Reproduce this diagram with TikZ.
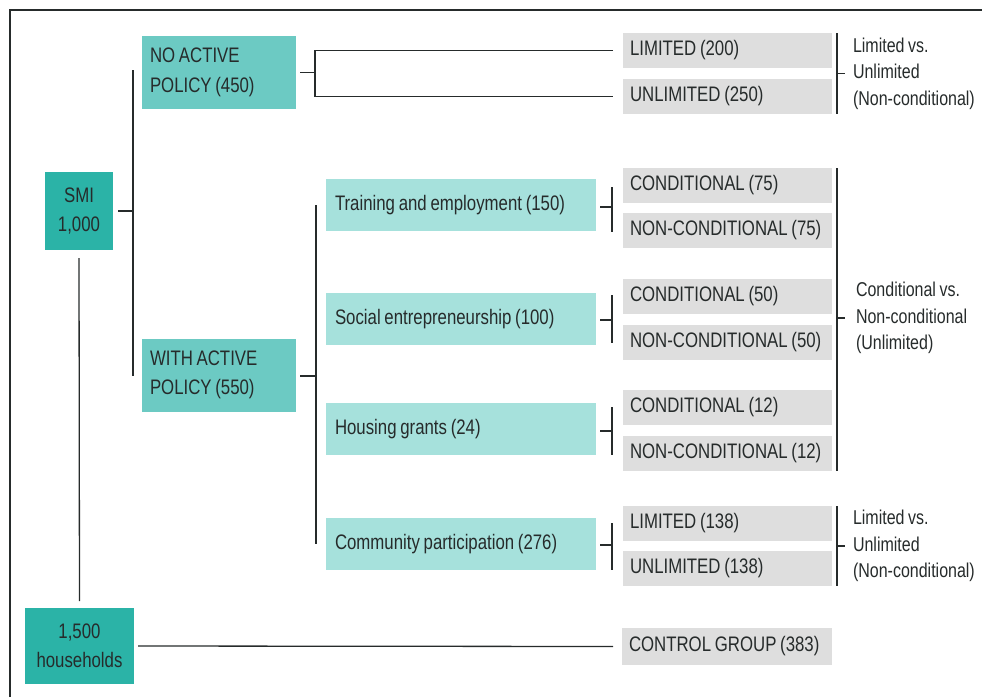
\documentclass[tikz,border=0pt]{standalone}
\usepackage{fontspec}
\setmainfont{Liberation Sans}[FakeStretch=0.8, WordSpace=0.8]
\usepackage{xcolor}
\usepackage{tikz}
\usetikzlibrary{positioning}
\definecolor{tealdark}{HTML}{2BB3A7}
\definecolor{tealmid}{HTML}{6CCAC3}
\definecolor{teallight}{HTML}{A6E1DC}
\definecolor{boxgrey}{HTML}{DEDEDE}
\definecolor{inkgrey}{HTML}{262B2B}

\begin{document}
\begin{tikzpicture}[x=1pt, y=-1pt,
    every node/.style={font=\fontsize{21}{29.5}\selectfont, text=inkgrey, inner sep=0pt, outer sep=0pt},
    darkbox/.style={fill=tealdark, align=center, minimum width=#1},
    midbox/.style={fill=tealmid, align=flush left, inner xsep=8pt, text width=138pt, minimum height=73pt},
    lightbox/.style={fill=teallight, align=flush left, inner xsep=9pt, text width=252pt, minimum height=52pt},
    greybox/.style={fill=boxgrey, align=flush left, inner xsep=7pt, text width=195pt, minimum height=35pt},
    sidenote/.style={anchor=west, align=left, font=\fontsize{20}{26.5}\selectfont},
    link/.style={draw=inkgrey, line width=1.3pt}]
   % canvas and frame (only left and top edges show)
   \useasboundingbox (0,0) rectangle (982,697);
   \draw[inkgrey, line width=2pt] (10,697) -- (10,10) -- (982,10);

   % main groups
   \node[darkbox=68pt, minimum height=78pt] (smi) at (79,211) {SMI\\1,000};
   \node[darkbox=109pt, minimum height=76pt] (hh) at (79.5,646) {1,500\\households};
   \node[midbox] (noact) at (219,72.5) {NO ACTIVE\\POLICY (450)};
   \node[midbox] (withact) at (219,375) {WITH ACTIVE\\POLICY (550)};

   % active policy lines
   \node[lightbox] (train) at (461,205) {Training and employment (150)};
   \node[lightbox] (social) at (461,319) {Social entrepreneurship (100)};
   \node[lightbox] (housing) at (461,429) {Housing grants (24)};
   \node[lightbox] (commun) at (461,544) {Community participation (276)};

   % treatment arms
   \node[greybox] (lim200) at (727.5,50.5) {LIMITED (200)};
   \node[greybox] (unl250) at (727.5,96.5) {UNLIMITED (250)};
   \node[greybox] (cond75) at (727.5,185.5) {CONDITIONAL (75)};
   \node[greybox] (ncond75) at (727.5,230.5) {NON-CONDITIONAL (75)};
   \node[greybox] (cond50) at (727.5,296.5) {CONDITIONAL (50)};
   \node[greybox] (ncond50) at (727.5,342.5) {NON-CONDITIONAL (50)};
   \node[greybox] (cond12) at (727.5,407.5) {CONDITIONAL (12)};
   \node[greybox] (ncond12) at (727.5,453.5) {NON-CONDITIONAL (12)};
   \node[greybox] (lim138) at (727.5,523.5) {LIMITED (138)};
   \node[greybox] (unl138) at (727.5,568.5) {UNLIMITED (138)};
   \node[greybox, text width=196pt, minimum height=37pt] (control) at (727,646.5) {CONTROL GROUP (383)};

   % comparisons
   \node[sidenote] (cmpA) at (853,73.5) {Limited vs.\\Unlimited\\(Non-conditional)};
   \node[sidenote] (cmpB) at (856,318) {Conditional vs.\\Non-conditional\\(Unlimited)};
   \node[sidenote] (cmpC) at (853,546) {Limited vs.\\Unlimited\\(Non-conditional)};

   % tree joints
   \coordinate (smiJ) at (133,211);
   \coordinate (noJ) at (315,72.5);
   \coordinate (withJ) at (316,376);
   \coordinate (trainJ) at (612,207);
   \coordinate (socialJ) at (612,320);
   \coordinate (housingJ) at (612,431);
   \coordinate (communJ) at (612,545);

   % SMI split
   \draw[link, shorten <=5pt] (smi.east) -- (smiJ);
   \draw[link] (smiJ |- 0,70) -- (smiJ |- 0,376);
   \draw[link, shorten <=8pt, shorten >=7pt] (smi.south) -- (hh.north);
   \draw[link, shorten <=4pt, shorten >=9pt] (hh.east) -- (control.west);

   % no active policy
   \draw[link, shorten <=4pt] (noact.east) -- (noJ);
   \draw[link] (lim200.west) ++(-10pt,0) -| (noJ) |- ([xshift=-10pt]unl250.west);

   % with active policy
   \draw[link, shorten <=4pt] (withact.east |- withJ) -- (withJ);
   \draw[link] (withJ |- train) -- (withJ |- commun);

   % sub-splits
   \draw[link, shorten <=4pt] (train.east |- trainJ) -- (trainJ);
   \draw[link] (trainJ |- 0,187) -- (trainJ |- 0,232);
   \draw[link, shorten <=4pt] (social.east |- socialJ) -- (socialJ);
   \draw[link] (socialJ |- 0,295) -- (socialJ |- 0,343);
   \draw[link, shorten <=4pt] (housing.east |- housingJ) -- (housingJ);
   \draw[link] (housingJ |- 0,407) -- (housingJ |- 0,455);
   \draw[link, shorten <=4pt] (commun.east |- communJ) -- (communJ);
   \draw[link] (communJ |- 0,523) -- (communJ |- 0,570);

   % comparison brackets
   \draw[link] (837,0 |- lim200.north) -- (837,0 |- unl250.south);
   \draw[link, shorten >=8pt] (837,0 |- cmpA.west) -- (cmpA.west);
   \draw[link] (837,0 |- cond75.north) -- (837,0 |- ncond12.south);
   \draw[link, shorten >=11pt] (837,0 |- cmpB.west) -- (cmpB.west);
   \draw[link] (837,0 |- lim138.north) -- (837,0 |- unl138.south);
   \draw[link, shorten >=8pt] (837,0 |- cmpC.west) -- (cmpC.west);
\end{tikzpicture}
\end{document}
